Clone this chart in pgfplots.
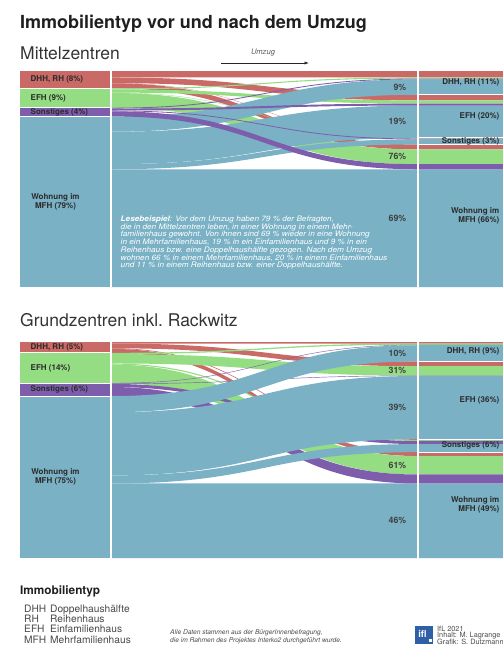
\documentclass[border=0pt]{standalone}
\usepackage{fontspec}
\setmainfont{TeX Gyre Heros}
\usepackage{pgfplots}
\usepackage{pgfplotstable}
\pgfplotsset{compat=1.18}
\usetikzlibrary{arrows.meta}

\definecolor{cDHH}{HTML}{C96A66}
\definecolor{cEFH}{HTML}{94DD83}
\definecolor{cSon}{HTML}{7E5DAD}
\definecolor{cMFH}{HTML}{7AB1C5}
\definecolor{txt}{HTML}{2B2B2B}
\definecolor{iflblue}{HTML}{2F5FA6}

% Shares of all respondents in %; row = dwelling type before the move,
% columns d0..d3 = after the move (DHH/RH, EFH, Sonstiges, Wohnung im MFH)
\pgfplotstableread{
vor   d0    d1     d2    d3
DHH   3.00  2.60   0.10  2.30
EFH   0.50  1.50   0.16  6.84
Son   0.39  0.89   0.37  2.35
MFH   7.11  15.01  2.37  54.51
}\tabMittel

\pgfplotstableread{
vor   d0    d1     d2    d3
DHH   0.70  2.20   0.30  1.80
EFH   0.60  4.34   0.52  8.54
Son   0.20  0.21   1.43  4.16
MFH   7.50  29.25  3.75  34.50
}\tabGrund

% horizontal layout (axis x units = pt): left column, flow area, right column
\def\xA{20}\def\xL{111}\def\xR{418}\def\xM{264.5}\def\xE{503}

% read one cell into \csname skv<i><j>\endcsname
\newcommand\skget[3]{% #1 table, #2 row, #3 column index 0..3
  \pgfplotstablegetelem{#2}{d#3}\of{#1}%
  \expandafter\xdef\csname skv#2#3\endcsname{\pgfplotsretval}}

% stack the flows: skL = top of a flow at its source, skR = top at its target
\newcommand\sankeyprep[1]{%
  \skget{#1}{0}{0}\skget{#1}{0}{1}\skget{#1}{0}{2}\skget{#1}{0}{3}%
  \skget{#1}{1}{0}\skget{#1}{1}{1}\skget{#1}{1}{2}\skget{#1}{1}{3}%
  \skget{#1}{2}{0}\skget{#1}{2}{1}\skget{#1}{2}{2}\skget{#1}{2}{3}%
  \skget{#1}{3}{0}\skget{#1}{3}{1}\skget{#1}{3}{2}\skget{#1}{3}{3}%
  \xdef\skrun{0}%
  \foreach \i in {0,1,2,3}{%
    \expandafter\xdef\csname skS\i\endcsname{\skrun}%
    \foreach \j in {0,1,2,3}{%
      \expandafter\xdef\csname skL\i\j\endcsname{\skrun}%
      \edef\skval{\csname skv\i\j\endcsname}%
      \pgfmathsetmacro\sktmp{\skrun+\skval}%
      \xdef\skrun{\sktmp}%
    }%
  }%
  \expandafter\xdef\csname skS4\endcsname{\skrun}%
  \xdef\skrun{0}%
  \foreach \j in {0,1,2,3}{%
    \expandafter\xdef\csname skT\j\endcsname{\skrun}%
    \foreach \i in {0,1,2,3}{%
      \expandafter\xdef\csname skR\i\j\endcsname{\skrun}%
      \edef\skval{\csname skv\i\j\endcsname}%
      \pgfmathsetmacro\sktmp{\skrun+\skval}%
      \xdef\skrun{\sktmp}%
    }%
  }%
  \expandafter\xdef\csname skT4\endcsname{\skrun}%
}

% one flow band (y axis points down via negative values): #1 source, #2 target, #3 colour
\newcommand\skband[3]{%
  \edef\skval{\csname skv#1#2\endcsname}%
  \pgfmathsetmacro\ska{-\csname skL#1#2\endcsname}%
  \pgfmathsetmacro\skc{-\csname skR#1#2\endcsname}%
  \pgfmathsetmacro\skb{\ska-\skval}%
  \pgfmathsetmacro\skd{\skc-\skval}%
  \edef\skcmd{\noexpand\fill[#3] (axis cs:\xL,\ska) .. controls (axis cs:\xM,\ska) and (axis cs:\xM,\skc) .. (axis cs:\xR,\skc) -- (axis cs:\xE,\skc) -- (axis cs:\xE,\skd) -- (axis cs:\xR,\skd) .. controls (axis cs:\xM,\skd) and (axis cs:\xM,\skb) .. (axis cs:\xL,\skb) -- cycle;}%
  \skcmd}

% source node rectangle in the left column
\newcommand\sksrc[2]{%
  \pgfmathtruncatemacro\sknx{#1+1}%
  \pgfmathsetmacro\ska{-\csname skS#1\endcsname}%
  \pgfmathsetmacro\skb{-\csname skS\sknx\endcsname}%
  \edef\skcmd{\noexpand\fill[#2] (axis cs:\xA,\ska) rectangle (axis cs:\xL,\skb);}%
  \skcmd}

% white separators between the nodes
\newcommand\skhline[3]{% #1 S/T, #2 index, #3 x-range
  \pgfmathsetmacro\ska{-\csname sk#1#2\endcsname}%
  \edef\skcmd{\noexpand\draw[white,line width=1pt] (axis cs:#3,\ska) -- (axis cs:\xE,\ska);}%
  \skcmd}
\newcommand\skhlineL[1]{%
  \pgfmathsetmacro\ska{-\csname skS#1\endcsname}%
  \edef\skcmd{\noexpand\draw[white,line width=0.9pt] (axis cs:\xA,\ska) -- (axis cs:110,\ska);}%
  \skcmd}
\newcommand\skseparators{%
  \fill[white] (axis cs:110,0) rectangle (axis cs:112.2,-100);
  \fill[white] (axis cs:417,0) rectangle (axis cs:419.2,-100);
  \skhlineL{1}\skhlineL{2}\skhlineL{3}%
  \skhline{T}{1}{419}\skhline{T}{2}{419}\skhline{T}{3}{419}}

% node labels: #1 extra options, #2 index, #3 text
\newcommand\skleft[3][]{%
  \pgfmathtruncatemacro\sknx{#2+1}%
  \pgfmathsetmacro\sky{-(\csname skS#2\endcsname+\csname skS\sknx\endcsname)/2}%
  \edef\skcmd{\noexpand\node[nodelbl,anchor=west,#1] at (axis cs:30.5,\sky) {\unexpanded{#3}};}%
  \skcmd}
\newcommand\skright[3][]{%
  \pgfmathtruncatemacro\sknx{#2+1}%
  \pgfmathsetmacro\sky{-(\csname skT#2\endcsname+\csname skT\sknx\endcsname)/2}%
  \edef\skcmd{\noexpand\node[nodelbl,anchor=east,align=right,#1] at (axis cs:499.5,\sky) {\unexpanded{#3}};}%
  \skcmd}
% share label at the right end of a flow: #1 shift, #2 source, #3 target, #4 text
\newcommand\skpct[4][0]{%
  \pgfmathsetmacro\sky{-(\csname skR#2#3\endcsname+\csname skv#2#3\endcsname/2+#1)}%
  \edef\skcmd{\noexpand\node[pctlbl] at (axis cs:406.5,\sky) {\unexpanded{#4}};}%
  \skcmd}

\tikzset{
  nodelbl/.style={font=\fontsize{8}{8.6}\selectfont\bfseries, text=txt, inner sep=0pt},
  pctlbl/.style={font=\fontsize{8.8}{9}\selectfont\bfseries, text=txt!90, inner sep=0pt, anchor=east},
}
\pgfplotsset{
  sankeyaxis/.style={anchor=north west, width=483pt, height=216pt, scale only axis,
    xmin=20, xmax=503, ymin=-100, ymax=0,
    axis lines=none, ticks=none, enlargelimits=false, clip=true},
}

\begin{document}
\begin{tikzpicture}
\useasboundingbox (0pt,0pt) rectangle (503pt,-645pt);

% headings
\node[anchor=base west, inner sep=0, font=\fontsize{18}{20}\selectfont\bfseries, text=black!88] at (20pt,-28pt) {Immobilientyp vor und nach dem Umzug};
\node[anchor=base west, inner sep=0, font=\fontsize{17.5}{20}\selectfont, text=black!80] at (20pt,-59pt) {Mittelzentren};
\node[anchor=base west, inner sep=0, font=\fontsize{17.5}{20}\selectfont, text=black!80] at (20pt,-326pt) {Grundzentren inkl.\ Rackwitz};
\node[inner sep=0, font=\fontsize{7.6}{8}\selectfont\itshape, text=black!65] at (263pt,-53pt) {Umzug};
\draw[-{Latex[length=4.5pt,width=3.2pt]}, line width=0.7pt, black!85] (221pt,-63pt) -- (309pt,-63pt);

% ---------- Mittelzentren ----------
\sankeyprep{\tabMittel}
\begin{axis}[sankeyaxis, at={(20pt,-71pt)}]
  \sksrc{0}{cDHH}\sksrc{1}{cEFH}\sksrc{2}{cSon}\sksrc{3}{cMFH}
  \skband{3}{3}{cMFH}
  \skband{0}{0}{cDHH}\skband{0}{1}{cDHH}\skband{0}{2}{cDHH}\skband{0}{3}{cDHH}
  \skband{1}{0}{cEFH}\skband{1}{1}{cEFH}\skband{1}{2}{cEFH}\skband{1}{3}{cEFH}
  \skband{3}{0}{cMFH}\skband{3}{1}{cMFH}\skband{3}{2}{cMFH}
  \skband{2}{0}{cSon}\skband{2}{1}{cSon}\skband{2}{2}{cSon}\skband{2}{3}{cSon}
  \skseparators
  \skleft{0}{DHH, RH (8\%)}
  \skleft{1}{EFH (9\%)}
  \skleft{2}{Sonstiges (4\%)}
  \skleft[anchor=center,align=center,xshift=25pt]{3}{Wohnung im\\MFH (79\%)}
  \skright{0}{DHH, RH (11\%)}
  \skright{1}{EFH (20\%)}
  \skright{2}{Sonstiges (3\%)}
  \skright{3}{Wohnung im\\MFH (66\%)}
  \skpct{3}{0}{9\%}
  \skpct{3}{1}{19\%}
  \skpct{1}{3}{76\%}
  \skpct[-4.3]{3}{3}{69\%}
\end{axis}

\node[anchor=north west, inner sep=0, align=left, text=white, xscale=1.08, transform shape,
      font=\fontsize{7.6}{7.75}\selectfont\itshape] at (120.5pt,-215.5pt)
{{\bfseries Lesebeispiel}: Vor dem Umzug haben 79~\% der Befragten,\\
die in den Mittelzentren leben, in einer Wohnung in einem Mehr-\\
familienhaus gewohnt. Von ihnen sind 69~\% wieder in eine Wohnung\\
in ein Mehrfamilienhaus, 19~\% in ein Einfamilienhaus und 9~\% in ein\\
Reihenhaus bzw. eine Doppelhaushälfte gezogen. Nach dem Umzug\\
wohnen 66~\% in einem Mehrfamilienhaus, 20~\% in einem Einfamilienhaus\\
und 11~\% in einem Reihenhaus bzw. einer Doppelhaushälfte.};

% ---------- Grundzentren ----------
\sankeyprep{\tabGrund}
\begin{axis}[sankeyaxis, at={(20pt,-342pt)}]
  \sksrc{0}{cDHH}\sksrc{1}{cEFH}\sksrc{2}{cSon}\sksrc{3}{cMFH}
  \skband{3}{3}{cMFH}
  \skband{0}{0}{cDHH}\skband{0}{1}{cDHH}\skband{0}{2}{cDHH}\skband{0}{3}{cDHH}
  \skband{1}{0}{cEFH}\skband{1}{1}{cEFH}\skband{1}{2}{cEFH}\skband{1}{3}{cEFH}
  \skband{2}{0}{cSon}\skband{2}{1}{cSon}\skband{2}{2}{cSon}\skband{2}{3}{cSon}
  \skband{3}{0}{cMFH}\skband{3}{1}{cMFH}\skband{3}{2}{cMFH}
  \skseparators
  \skleft{0}{DHH, RH (5\%)}
  \skleft{1}{EFH (14\%)}
  \skleft{2}{Sonstiges (6\%)}
  \skleft[anchor=center,align=center,xshift=25pt]{3}{Wohnung im\\MFH (75\%)}
  \skright{0}{DHH, RH (9\%)}
  \skright{1}{EFH (36\%)}
  \skright{2}{Sonstiges (6\%)}
  \skright{3}{Wohnung im\\MFH (49\%)}
  \skpct{3}{0}{10\%}
  \skpct{1}{1}{31\%}
  \skpct{3}{1}{39\%}
  \skpct{1}{3}{61\%}
  \skpct{3}{3}{46\%}
\end{axis}

% ---------- legend and credits ----------
\node[anchor=base west, inner sep=0, font=\fontsize{11.8}{12}\selectfont\bfseries, text=black!88] at (20pt,-594pt) {Immobilientyp};
\begin{scope}[every node/.style={anchor=base west, inner sep=0, font=\fontsize{10.2}{10}\selectfont, text=black!72}]
  \node at (24pt,-612.5pt) {DHH}; \node at (50pt,-612.5pt) {Doppelhaushälfte};
  \node at (24pt,-622.5pt) {RH};  \node at (50pt,-622.5pt) {Reihenhaus};
  \node at (24pt,-632.5pt) {EFH}; \node at (50pt,-632.5pt) {Einfamilienhaus};
  \node at (24pt,-643pt)   {MFH}; \node at (50pt,-643pt)   {Mehrfamilienhaus};
\end{scope}
\begin{scope}[every node/.style={anchor=base west, inner sep=0, font=\fontsize{6.6}{8}\selectfont\itshape, text=black!70}]
  \node at (170pt,-634.5pt) {Alle Daten stammen aus der BürgerInnenbefragung,};
  \node at (170pt,-642.5pt) {die im Rahmen des Projektes Interko2 durchgeführt wurde.};
\end{scope}
\fill[iflblue] (415pt,-626pt) rectangle (433pt,-644pt);
\node[inner sep=0, font=\fontsize{9.5}{9}\selectfont\bfseries, text=white] at (422.5pt,-634pt) {ifl};
\fill[white] (429pt,-638.5pt) rectangle (432pt,-641.5pt);
\begin{scope}[every node/.style={anchor=base west, inner sep=0, font=\fontsize{7.3}{6}\selectfont, text=black!70}]
  \node at (437pt,-631pt) {IfL 2021};
  \node at (437pt,-637.5pt) {Inhalt: M. Lagrange};
  \node at (437pt,-644pt) {Grafik: S. Dutzmann};
\end{scope}
\end{tikzpicture}
\end{document}
